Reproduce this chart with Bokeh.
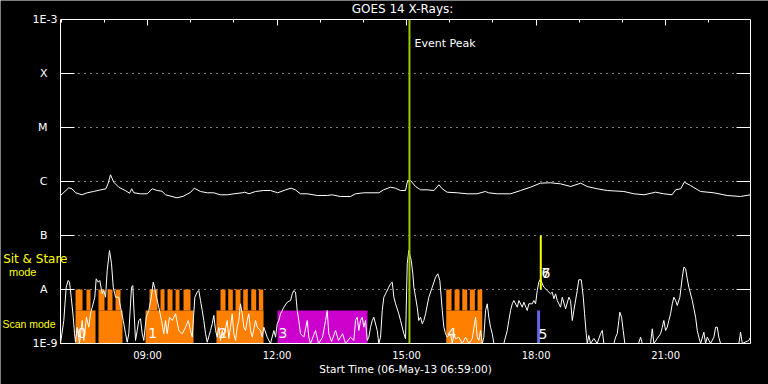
from bokeh.plotting import figure
from bokeh.models import Range1d, FixedTicker, LogAxis, LinearAxis, Label, CustomJSTickFormatter
from bokeh.embed import file_html
from bokeh.resources import INLINE
from bokeh.core.properties import value

FONT = "DejaVu Sans"
FONT_NARROW = "Liberation Sans"

# ---------------- data ----------------
# time axis: minutes after 06-May-13 06:59:00
t_start, t_end = 0, 959
flux_lo, flux_hi = 1e-9, 1e-3
hour_ticks = [121, 301, 481, 661, 841]
hour_labels = ["09:00", "12:00", "15:00", "18:00", "21:00"]
minor_hours = [1, 61, 181, 241, 361, 421, 541, 601, 721, 781, 901]

flux_num_ticks = [1e-9, 1e-3]
flux_num_labels = ["1E-9", "1E-3"]
class_ticks = [1e-8, 1e-7, 1e-6, 1e-5, 1e-4]
class_labels = ["A", "B", "C", "M", "X"]

title_text = "GOES 14 X-Rays:"
xlabel_text = "Start Time (06-May-13 06:59:00)"

# GOES 1-8 A channel (log10 flux)
long_t = [0, 11.5, 16, 21, 30, 37, 46, 56, 63, 66, 69.5, 74, 81, 90, 96, 99, 102, 111, 120.5, 127.5,
          134.5, 141, 146, 155, 162, 171, 181, 186, 194.5, 204, 213, 222, 232, 241, 252.5, 256, 262, 271, 282.5, 292,
          302, 313, 320.5, 326.5, 333.5, 343, 357, 371, 377.5, 389, 403, 410, 421.5, 442.5, 449, 458.5, 465.5, 472.5, 479.5, 482.5,
          486.5, 493.5, 500.5, 509.5, 519, 526, 530.5, 537.5, 551.5, 565, 579, 590.5, 595, 607, 625.5, 639.5, 653, 667, 681, 695,
          709, 723, 732, 746, 760, 783, 797, 811, 827, 838.5, 850, 855, 862, 867, 875.5, 889.5, 908, 926.5, 945, 959]
long_logflux = [-6.259, -6.117, -6.135, -6.209, -6.246, -6.209, -6.185, -6.154, -6.135, -6.043,
                -5.876, -6.013, -6.106, -6.167, -6.217, -6.135, -6.209, -6.228, -6.228, -6.135,
                -6.167, -6.180, -6.246, -6.278, -6.302, -6.272, -6.198, -6.124, -6.185, -6.209,
                -6.209, -6.246, -6.246, -6.228, -6.209, -6.198, -6.228, -6.185, -6.167, -6.167,
                -6.209, -6.154, -6.124, -6.154, -6.228, -6.228, -6.259, -6.259, -6.246, -6.278,
                -6.278, -6.228, -6.209, -6.209, -6.154, -6.106, -6.124, -6.167, -6.167, -5.981,
                -5.981, -6.093, -6.154, -6.154, -6.167, -6.061, -6.135, -6.198, -6.209, -6.228,
                -6.228, -6.185, -6.209, -6.228, -6.228, -6.167, -6.106, -6.031, -6.024, -6.043,
                -6.093, -6.031, -6.093, -6.135, -6.167, -6.185, -6.228, -6.246, -6.198, -6.228,
                -6.246, -6.154, -6.135, -6.013, -6.074, -6.185, -6.209, -6.259, -6.278, -6.246]

# GOES 0.5-4 A channel (time, log10 flux)
short_pts = [
    (0, -9), (4.6, -8.574), (7.9, -7.957), (10.7, -7.833), (12.5, -7.865), (14.9, -8.143), (17.7, -8.513), (19.5, -8.815),
    (20.9, -8.976), (23.2, -8.698), (26.4, -9), (30.2, -8.574), (32.4, -8.944), (36.1, -8.513), (39.3, -8.698), (41.7, -8.444),
    (44.1, -8.328), (47.7, -8.143), (49.6, -7.802), (52.4, -7.865), (54.6, -7.833), (58.0, -8.080), (60.2, -8.019), (62.6, -8.143),
    (64.9, -7.648), (68.1, -7.278), (70.9, -7.524), (73.3, -7.957), (76.5, -8.143), (81.0, -8.143), (83.4, -8.328), (87.2, -8.574),
    (90.4, -8.820), (92.7, -8.976), (94.9, -8.820), (98.7, -7.957), (100.5, -7.926), (101.9, -8.328), (104.3, -8.944), (106.6, -8.759),
    (108.8, -8.574), (111.2, -8.543), (113.6, -8.820), (115.8, -8.944), (119.1, -8.513), (122.7, -8.389), (126.1, -8.143), (128.9, -7.865),
    (130.7, -7.957), (133.4, -8.143), (136.6, -8.328), (140.4, -8.574), (143.6, -8.820), (146.0, -8.574), (148.3, -8.820), (151.5, -8.513),
    (155.3, -8.574), (159.9, -8.450), (164.4, -8.759), (169.2, -8.820), (173.8, -8.698), (177.5, -8.574), (180.7, -8.759), (183.1, -8.883),
    (186.7, -8.143), (190.0, -8.050), (192.2, -8.019), (194.6, -8.204), (197.0, -8.389), (199.2, -8.574), (201.6, -8.820), (203.9, -8.976),
    (208.5, -8.759), (210.9, -8.635), (213.1, -8.481), (215.5, -8.759), (217.8, -8.883), (220.0, -8.698), (222.4, -8.944), (224.8, -8.759),
    (227.0, -8.883), (231.7, -8.574), (233.9, -8.907), (236.3, -8.698), (238.6, -8.450), (240.9, -8.820), (243.3, -8.944), (245.6, -8.698),
    (247.8, -8.574), (250.2, -8.265), (252.6, -8.450), (254.8, -8.698), (257.2, -8.759), (259.5, -8.574), (261.7, -8.450), (264.1, -8.759),
    (266.5, -8.883), (271.1, -8.574), (273.4, -8.698), (278.0, -8.759), (280.4, -8.883), (282.6, -8.698), (287.3, -8.883), (291.9, -9),
    (296.5, -8.759), (298.9, -8.883), (301.2, -8.635), (303.4, -8.574), (305.8, -8.450), (310.4, -8.328), (315.1, -8.235), (319.7, -8.204),
    (322.1, -8.080), (324.3, -8.019), (326.7, -8.050), (329.0, -8.389), (331.2, -8.574), (333.6, -8.820), (338.2, -8.883), (342.9, -8.574),
    (345.1, -8.883), (347.5, -9), (354.5, -8.759), (358.6, -9), (364.2, -8.883), (368.4, -8.574), (370.7, -8.389), (372.9, -8.820),
    (376.7, -8.963), (382.3, -8.759), (386.4, -8.944), (392.0, -8.820), (396.2, -9), (403.1, -8.883), (407.7, -8.944), (410.1, -8.574),
    (412.4, -8.513), (414.6, -8.759), (417.0, -8.574), (419.4, -8.513), (421.6, -8.698), (424.0, -8.574), (426.3, -8.944), (428.5, -8.883),
    (430.9, -8.698), (433.3, -8.574), (435.5, -8.513), (440.2, -8.759), (442.4, -9), (444.8, -8.883), (447.2, -8.389), (449.4, -8.143),
    (451.8, -8.080), (456.3, -7.957), (458.7, -7.894), (461.1, -7.865), (463.3, -8.143), (465.7, -8.265), (470.2, -8.450), (472.6, -8.574),
    (477.2, -8.820), (479.6, -8.913), (481.9, -7.524), (484.1, -7.278), (487.5, -7.463), (489.7, -7.709), (491.1, -7.957), (493.5, -8.143),
    (495.8, -8.328), (498.0, -8.574), (500.4, -8.513), (502.8, -8.635), (505.0, -8.574), (507.4, -8.450), (511.9, -8.143), (516.7, -7.957),
    (521.3, -7.772), (524.4, -7.709), (527.2, -7.833), (530.6, -8.389), (532.8, -8.698), (535.2, -8.820), (537.5, -8.883), (542.1, -8.820),
    (544.5, -9), (546.7, -8.820), (549.1, -8.913), (553.6, -8.883), (558.4, -9), (563.0, -8.883), (567.5, -9), (572.2, -8.913),
    (576.9, -8.513), (579.2, -8.883), (581.4, -8.944), (583.8, -8.759), (586.2, -9), (588.4, -8.883), (590.8, -8.389), (593.1, -8.265),
    (595.3, -8.513), (597.7, -8.698), (600.1, -8.820), (602.3, -9), (616.2, -9), (620.9, -8.759), (623.1, -8.574), (625.5, -8.389),
    (627.9, -8.265), (630.1, -8.204), (634.8, -8.328), (637.1, -8.204), (641.8, -8.328), (644.0, -8.235), (648.7, -8.389), (650.9, -8.265),
    (655.6, -8.265), (657.9, -8.204), (660.3, -8.265), (662.6, -8.019), (664.8, -7.865), (667.2, -7.802), (669.6, -7.894), (671.8, -7.957),
    (676.5, -8.019), (681.1, -8.080), (683.5, -8.050), (685.7, -8.172), (688.1, -8.080), (690.4, -8.204), (695.0, -8.328), (697.4, -8.143),
    (702.0, -8.357), (706.5, -8.143), (708.9, -8.204), (711.3, -8.574), (713.5, -8.389), (718.2, -8.019), (720.4, -7.820), (723.8, -7.820),
    (726.6, -8.143), (728.4, -8.450), (730.7, -8.820), (732.1, -9), (734.3, -8.852), (736.7, -9), (741.3, -8.907), (745.9, -9),
    (750.6, -8.820), (753.0, -8.759), (755.2, -9), (769.1, -9), (771.5, -8.883), (773.8, -8.820), (776.0, -8.574), (777.4, -8.420),
    (779.8, -8.513), (782.1, -8.759), (784.3, -9), (803.4, -9), (806.2, -8.883), (808.6, -9), (820.1, -9), (822.5, -8.728),
    (824.7, -9), (829.4, -8.907), (834.0, -8.820), (836.4, -8.698), (838.6, -8.574), (841.0, -8.759), (843.3, -8.698), (845.5, -8.574),
    (847.9, -8.450), (850.3, -8.265), (852.5, -8.143), (854.9, -8.204), (857.2, -8.296), (860.8, -8.143), (864.2, -7.772), (866.4, -7.587),
    (868.8, -7.617), (871.1, -7.802), (873.3, -7.957), (878.1, -8.204), (880.3, -8.357), (882.7, -8.513), (885.0, -8.759), (887.2, -8.883),
    (889.6, -9), (894.2, -8.791), (896.6, -9), (898.9, -8.883), (903.5, -9), (908.1, -8.883), (910.5, -8.698), (912.8, -8.698),
    (915.0, -8.883), (917.4, -9), (942.8, -9), (945.2, -8.791), (947.6, -9), (956.8, -8.944), (959, -8.883),
]

# scan-mode observations (minutes)
scan_start = [20.9, 52.8, 118.2, 216.8, 536.1]
scan_end = [48.7, 86.2, 184.9, 282.2, 586.2]
raster_start = [20.9, 36.1, 52.8, 65.3, 76.5, 123.7, 139.0, 148.7, 159.9, 171.0,
                222.4, 233.1, 243.3, 254.0, 265.1, 275.6, 536.1, 547.7, 558.4, 568.9, 579.6]
raster_end = [30.6, 41.7, 61.2, 72.3, 83.4, 134.8, 144.6, 155.7, 165.4, 180.7,
              229.4, 239.5, 250.2, 260.3, 272.0, 281.8, 543.5, 554.6, 565.3, 575.9, 586.2]
# sit-and-stare observation
stare_start = [301.6]
stare_end = [426.7]
# other observations
event_peak_t = 485
obs5_t = 664.5
obs67_t = 667.5

obs_label_text = ["0", "1", "2", "3", "4", "5", "6", "7"]
obs_label_t = [23.6, 122, 219.6, 303, 538, 664.4, 668.6, 668.6]
obs_label_logy = [-8.806, -8.806, -8.806, -8.806, -8.806, -8.824, -7.694, -7.694]

# ---------------- layout (pixels) ----------------
W, H = 768, 384
BOX_L, BOX_R, BOX_T, BOX_B = 60, 750, 19, 343
mpp = (t_end - t_start) / (BOX_R - BOX_L)          # minutes per pixel
dpp = 6.0 / (BOX_B - BOX_T)                        # decades per pixel


def px_to_t(px):
    return t_start + (px - BOX_L) * mpp


x_rng = Range1d(px_to_t(0), px_to_t(W))
y_rng = Range1d(10 ** (-9 - (H - BOX_B) * dpp), 10 ** (-3 + BOX_T * dpp))

p = figure(width=W, height=H, x_range=x_rng, y_range=y_rng, y_axis_type="log",
           output_backend="svg", toolbar_location=None,
           background_fill_color="black", border_fill_color="black",
           min_border=0)
p.title.visible = False
p.outline_line_color = None
p.xgrid.visible = False
p.ygrid.visible = False

# dotted class grid lines inside the box
p.segment(x0=[t_start] * len(class_ticks), x1=[t_end] * len(class_ticks), y0=class_ticks, y1=class_ticks,
          line_color="white", line_width=1, line_dash="1 5")

row_low = 1e-9
row_scan = 10 ** -8.389
row_top = 1e-8

p.quad(left=scan_start, right=scan_end, bottom=[row_low] * len(scan_start), top=[row_scan] * len(scan_start),
       fill_color="#ff8000", line_color=None)
p.quad(left=raster_start, right=raster_end, bottom=[row_scan] * len(raster_start), top=[row_top] * len(raster_start),
       fill_color="#ff8000", line_color=None)
p.quad(left=stare_start, right=stare_end, bottom=[row_low], top=[row_scan],
       fill_color="#cc00cc", line_color=None)

short_t = [a for a, b in short_pts]
short_f = [10 ** b for a, b in short_pts]
p.line(short_t, short_f, line_color="white", line_width=1)
p.line(long_t, [10 ** v for v in long_logflux], line_color="white", line_width=1)

p.segment(x0=[obs5_t], x1=[obs5_t], y0=[row_low], y1=[row_scan], line_color="#6464e6", line_width=3)
p.segment(x0=[obs67_t], x1=[obs67_t], y0=[1e-8], y1=[1e-7], line_color="#ffff00", line_width=2)
p.segment(x0=[event_peak_t], x1=[event_peak_t], y0=[flux_lo], y1=[flux_hi], line_color="#9cc800", line_width=2)

p.text(x=obs_label_t, y=[10 ** v for v in obs_label_logy], text=obs_label_text, text_color="white",
       text_font=value(FONT), text_font_size="14px", text_align="left", text_baseline="middle")

p.add_layout(Label(x=event_peak_t + 7, y=10 ** -3.444, text="Event Peak", text_color="white",
                   text_font=FONT, text_font_size="11px", text_align="left", text_baseline="middle"))

blank = CustomJSTickFormatter(code="return ''")
NOTICK = dict(major_tick_in=0, major_tick_out=0, minor_tick_in=0, minor_tick_out=0,
              axis_line_color=None, major_tick_line_color=None, minor_tick_line_color=None)

# --- box axes (fixed at the edges of the data box)
bottom = p.xaxis[0]
bottom.fixed_location = flux_lo
bottom.bounds = (t_start, t_end)
bottom.ticker = FixedTicker(ticks=hour_ticks, minor_ticks=minor_hours)
bottom.major_label_overrides = {t: s for t, s in zip(hour_ticks, hour_labels)}
bottom.major_tick_in = 0
bottom.major_tick_out = 0
bottom.minor_tick_in = 0
bottom.minor_tick_out = 0
bottom.axis_line_color = "white"
bottom.major_label_text_color = "white"
bottom.major_label_text_font = FONT
bottom.major_label_text_font_size = "10px"
bottom.major_label_standoff = 6

top = LinearAxis(fixed_location=flux_hi, bounds=(t_start, t_end),
                 ticker=FixedTicker(ticks=hour_ticks, minor_ticks=minor_hours), formatter=blank,
                 major_tick_in=6, major_tick_out=0, minor_tick_in=3, minor_tick_out=0,
                 major_tick_line_color="white", minor_tick_line_color="white",
                 axis_line_color="white", major_label_standoff=0)
p.add_layout(top, "above")

left = p.yaxis[0]
left.fixed_location = t_start
left.bounds = (flux_lo, flux_hi)
left.ticker = FixedTicker(ticks=class_ticks)
left.formatter = blank
left.major_tick_in = 14
left.major_tick_out = 0
left.minor_tick_in = 0
left.minor_tick_out = 0
left.major_tick_line_color = "white"
left.axis_line_color = "white"
left.major_label_standoff = 0

right = LogAxis(fixed_location=t_end, bounds=(flux_lo, flux_hi), ticker=FixedTicker(ticks=class_ticks),
                formatter=blank, major_tick_in=14, major_tick_out=0, minor_tick_in=0, minor_tick_out=0,
                major_tick_line_color="white", axis_line_color="white", major_label_standoff=0)
p.add_layout(right, "right")


# --- label-only axes
def left_labels(px_right, ticks, labels, color, size, font=FONT):
    ax = LogAxis(fixed_location=px_to_t(px_right), ticker=FixedTicker(ticks=ticks),
                 major_label_overrides=dict(zip(ticks, labels)), major_label_standoff=0,
                 major_label_text_color=color, major_label_text_font=font,
                 major_label_text_font_size=size, **NOTICK)
    p.add_layout(ax, "left")


left_labels(57, flux_num_ticks, flux_num_labels, "white", "11px")
left_labels(47, class_ticks, class_labels, "white", "11px")
left_labels(67, [10 ** -7.426], ["Sit & Stare"], "#ffff00", "12px")
left_labels(36, [10 ** -7.667], ["mode"], "#ffff00", "11px", FONT_NARROW)
left_labels(55, [10 ** -8.648], ["Scan mode"], "#ffff00", "10.5px", FONT_NARROW)

title_t = px_to_t(402)
title_ax = LinearAxis(fixed_location=flux_hi, ticker=FixedTicker(ticks=[title_t]),
                      major_label_overrides={title_t: title_text}, major_label_standoff=4,
                      major_label_text_color="white", major_label_text_font=FONT,
                      major_label_text_font_size="12px", **NOTICK)
p.add_layout(title_ax, "above")

xlabel_t = px_to_t(405)
xlabel_ax = LinearAxis(fixed_location=flux_lo, ticker=FixedTicker(ticks=[xlabel_t]),
                       major_label_overrides={xlabel_t: xlabel_text}, major_label_standoff=19,
                       major_label_text_color="white", major_label_text_font=FONT,
                       major_label_text_font_size="10.5px", **NOTICK)
p.add_layout(xlabel_ax, "below")

open("out.html", "w").write(file_html(p, INLINE))
